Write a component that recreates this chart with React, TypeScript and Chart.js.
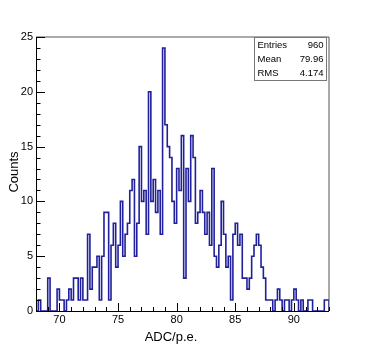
import React, { useEffect, useRef } from "react";
import { Chart, registerables } from "chart.js";

Chart.register(...registerables);

// ---- data ----
const xMin = 68;
const xMax = 93;
const binWidth = 0.2;
const counts = [
  1, 0, 1, 0, 0, 0, 3, 0, 0, 0,
  2, 1, 1, 0, 1, 2, 1, 3, 3, 1,
  3, 1, 1, 7, 2, 4, 4, 5, 1, 5,
  9, 9, 1, 6, 8, 4, 6, 10, 5, 7,
  8, 11, 12, 5, 8, 15, 10, 11, 7, 20,
  10, 12, 9, 11, 7, 24, 17, 15, 14, 10,
  8, 13, 11, 16, 3, 13, 10, 16, 14, 8,
  9, 11, 9, 7, 9, 6, 13, 5, 4, 6,
  10, 7, 4, 5, 1, 7, 8, 6, 7, 3,
  3, 2, 3, 5, 6, 7, 6, 4, 3, 1,
  1, 1, 0, 1, 2, 1, 0, 1, 1, 0,
  1, 2, 1, 0, 1, 0, 0, 1, 1, 0,
  0, 0, 0, 0, 1,
];
const xMajorTicks = [70, 75, 80, 85, 90];
const yMajorTicks = [0, 5, 10, 15, 20, 25];
const yMin = 0;
const yMax = 25;
const statsLabels = ["Entries", "Mean", "RMS"];
const statsValues = ["960", "79.96", "4.174"];
const xTitle = "ADC/p.e.";
const yTitle = "Counts";

const FONT = '"Liberation Sans", Arial, Helvetica, sans-serif';
const LINE_COLOR = "#20209c";

export default function App() {
  const ref = useRef<HTMLCanvasElement>(null);

  useEffect(() => {
    const canvas = ref.current;
    if (!canvas) return;

    const points: { x: number; y: number }[] = [{ x: xMin, y: 0 }];
    counts.forEach((c, i) => points.push({ x: xMin + i * binWidth, y: c }));
    points.push({ x: xMax, y: counts[counts.length - 1] });
    points.push({ x: xMax, y: 0 });

    const rootFrame = {
      id: "rootFrame",
      afterDraw(chart: any) {
        const { ctx, chartArea: a, scales } = chart;
        const xs = scales.x;
        const ys = scales.y;
        ctx.save();
        ctx.lineWidth = 1;
        ctx.strokeStyle = "#555";
        ctx.beginPath();
        ctx.moveTo(a.left, a.top);
        ctx.lineTo(a.right, a.top);
        ctx.lineTo(a.right, a.bottom);
        ctx.stroke();
        ctx.strokeStyle = "#000";
        ctx.beginPath();
        ctx.moveTo(a.left + 0.5, a.top);
        ctx.lineTo(a.left + 0.5, a.bottom + 0.5);
        ctx.lineTo(a.right, a.bottom + 0.5);
        for (let v = Math.ceil(xMin); v <= xMax; v++) {
          const px = Math.round(xs.getPixelForValue(v)) + 0.5;
          const len = xMajorTicks.includes(v) ? 8 : 4;
          ctx.moveTo(px, a.bottom);
          ctx.lineTo(px, a.bottom - len);
        }
        for (let v = yMin; v <= yMax; v++) {
          const py = Math.round(ys.getPixelForValue(v)) + 0.5;
          const len = yMajorTicks.includes(v) ? 9 : 4.5;
          ctx.moveTo(a.left, py);
          ctx.lineTo(a.left + len, py);
        }
        ctx.stroke();

        ctx.fillStyle = "#000";
        ctx.font = `13px ${FONT}`;
        ctx.textAlign = "center";
        ctx.textBaseline = "middle";
        ctx.fillText(xTitle, 171, 337);
        ctx.save();
        ctx.translate(14, 172);
        ctx.rotate(-Math.PI / 2);
        ctx.fillText(yTitle, 0, 0);
        ctx.restore();

        const bx = 254.5, by = 37.5, bw = 72, bh = 43;
        ctx.fillStyle = "#fff";
        ctx.fillRect(bx, by, bw, bh);
        ctx.strokeStyle = "#777";
        ctx.strokeRect(bx, by, bw, bh);
        ctx.fillStyle = "#000";
        ctx.font = `9.5px ${FONT}`;
        ctx.textBaseline = "middle";
        statsLabels.forEach((lab, i) => {
          const y = 45 + i * 14;
          ctx.textAlign = "left";
          ctx.fillText(lab, bx + 3, y);
          ctx.textAlign = "right";
          ctx.fillText(statsValues[i], bx + bw - 3, y);
        });
        ctx.restore();
      },
    };

    const chart = new Chart(canvas, {
      type: "line",
      data: {
        datasets: [
          {
            data: points,
            stepped: "after",
            borderColor: LINE_COLOR,
            borderWidth: 1.6,
            pointRadius: 0,
            fill: false,
          },
        ],
      },
      options: {
        animation: false,
        responsive: false,
        devicePixelRatio: 1,
        layout: { padding: { top: 37, right: 37, left: 0, bottom: 0 } },
        plugins: { legend: { display: false }, tooltip: { enabled: false } },
        scales: {
          x: {
            type: "linear",
            min: xMin,
            max: xMax,
            grid: { display: false, drawTicks: false },
            border: { display: false },
            afterBuildTicks: (s: any) => {
              s.ticks = xMajorTicks.map((v) => ({ value: v }));
            },
            afterFit: (s: any) => {
              s.height = 35;
            },
            ticks: {
              padding: 2,
              color: "#000",
              font: { family: FONT, size: 11 },
              maxRotation: 0,
              callback: (v: any) => String(v),
            },
          },
          y: {
            type: "linear",
            min: yMin,
            max: yMax,
            grid: { display: false, drawTicks: false },
            border: { display: false },
            afterBuildTicks: (s: any) => {
              s.ticks = yMajorTicks.map((v) => ({ value: v }));
            },
            afterFit: (s: any) => {
              s.width = 36;
            },
            ticks: {
              padding: 3,
              color: "#000",
              font: { family: FONT, size: 11 },
              callback: (v: any) => String(v),
            },
          },
        },
      },
      plugins: [rootFrame],
    } as any);

    return () => chart.destroy();
  }, []);

  return (
    <div style={{ position: "fixed", left: 0, top: 0, width: 366, height: 346, background: "#fff" }}>
      <canvas ref={ref} width={366} height={346} style={{ width: 366, height: 346 }} />
    </div>
  );
}
